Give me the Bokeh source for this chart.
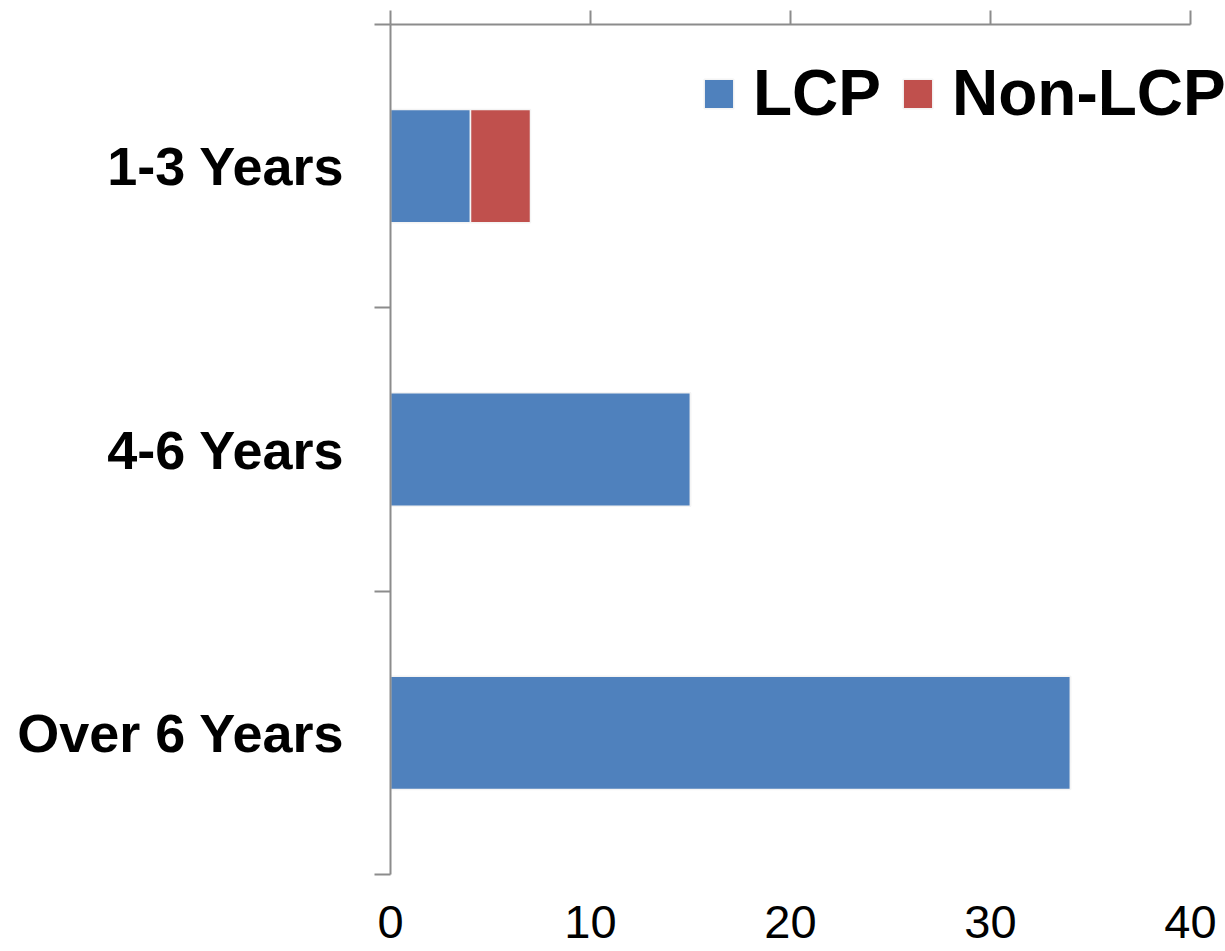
from bokeh.plotting import figure
from bokeh.models import (ColumnDataSource, Range1d, FixedTicker, LinearAxis, Legend, LegendItem,
                          CustomLabelingPolicy)
from bokeh.embed import file_html
from bokeh.resources import INLINE

categories = ["1-3 Years", "4-6 Years", "Over 6 Years"]
lcp = [4, 15, 34]
non_lcp = [3, 0, 0]
x_ticks = [0, 10, 20, 30, 40]
series = ["LCP", "Non-LCP"]
colors = ["#4F81BD", "#C0504D"]

n = len(categories)
ypos = [n - i - 0.5 for i in range(n)]
source = ColumnDataSource(dict(y=ypos, LCP=lcp, **{"Non-LCP": non_lcp}))

AX = "#8C8C8C"
FONT = "Liberation Sans"

p = figure(width=1225, height=951, output_backend="svg", toolbar_location=None,
           x_range=Range1d(0, 41.75), y_range=Range1d(0, n),
           min_border_left=390, min_border_right=0, min_border_top=24, min_border_bottom=77,
           x_axis_location="below")
p.outline_line_color = None
p.grid.visible = False
p.background_fill_color = "white"

renderers = p.hbar_stack(series, y="y", height=0.4, source=source, color=colors,
                         line_color="#F4F4F4", line_width=1.5)

# bottom axis: labels only
xb = p.xaxis[0]
xb.ticker = FixedTicker(ticks=x_ticks)
xb.bounds = (0, 40)
xb.axis_line_color = None
xb.major_tick_line_color = None
xb.minor_tick_line_color = None
xb.major_label_text_font = FONT
xb.major_label_text_font_size = "47px"
xb.major_label_text_color = "black"
xb.major_label_standoff = 25

# top axis: line + outward ticks, no labels
xt = LinearAxis(ticker=FixedTicker(ticks=x_ticks), bounds=(0, 40))
xt.axis_line_color = AX
xt.axis_line_width = 2
xt.major_tick_line_color = AX
xt.major_tick_line_width = 2
xt.major_tick_out = 14
xt.major_tick_in = 0
xt.minor_tick_line_color = None
xt.major_label_text_font_size = "0px"
xt.major_label_standoff = 0
xt.major_label_policy = CustomLabelingPolicy(code="return new Set()")
p.add_layout(xt, "above")

# left axis: category labels at centres, boundary ticks as minor ticks
ya = p.yaxis[0]
ya.ticker = FixedTicker(ticks=ypos, minor_ticks=[float(k) for k in range(n + 1)])
ya.major_label_overrides = {y: c for y, c in zip(ypos, categories)}
ya.axis_line_color = AX
ya.axis_line_width = 2
ya.major_tick_line_color = None
ya.major_tick_out = 0
ya.major_tick_in = 0
ya.minor_tick_line_color = AX
ya.minor_tick_line_width = 2
ya.minor_tick_out = 16
ya.minor_tick_in = 0
ya.major_label_text_font = FONT
ya.major_label_text_font_style = "bold"
ya.major_label_text_font_size = "54px"
ya.major_label_text_color = "black"
ya.major_label_standoff = 30

legend = Legend(items=[LegendItem(label=s, renderers=[r]) for s, r in zip(series, renderers)],
                orientation="horizontal", location=(310, 744),
                label_text_font=FONT, label_text_font_style="bold",
                label_text_font_size="64px", label_text_color="black",
                glyph_width=37, glyph_height=37, label_standoff=16, spacing=18,
                padding=0, margin=0, border_line_color=None, background_fill_alpha=0)
p.add_layout(legend, "center")

open("out.html", "w").write(file_html(p, INLINE))
